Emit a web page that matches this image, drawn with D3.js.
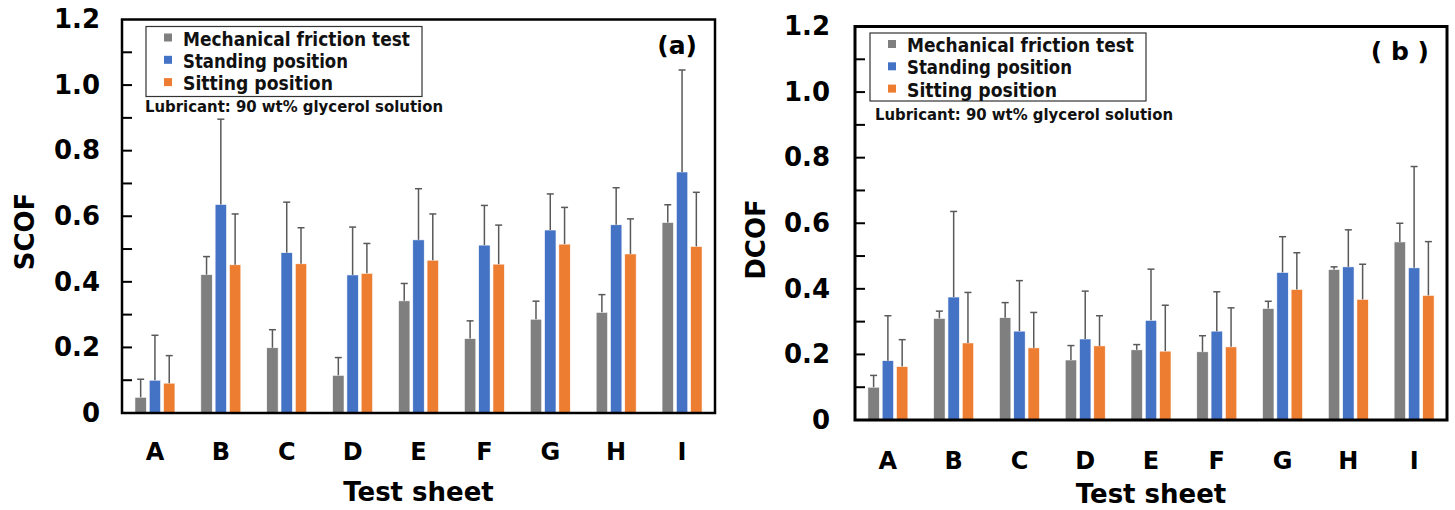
<!DOCTYPE html>
<html>
<head>
<meta charset="utf-8">
<script src="https://cdn.jsdelivr.net/npm/d3@7"></script>
<style>
  body { margin: 0; background: #fff; }
  svg text { font-family: "DejaVu Sans", sans-serif; }
</style>
</head>
<body>
<div id="chart"></div>
<script>
// categories and series
const sheets = ["A", "B", "C", "D", "E", "F", "G", "H", "I"];
const seriesNames = ["Mechanical friction test", "Standing position", "Sitting position"];
const yTicks = [0, 0.2, 0.4, 0.6, 0.8, 1.0, 1.2];

// (a) static COF
const scofMech = [0.048, 0.422, 0.199, 0.115, 0.342, 0.227, 0.286, 0.307, 0.581];
const scofMechSd = [0.055, 0.055, 0.055, 0.054, 0.053, 0.054, 0.055, 0.054, 0.054];
const scofStand = [0.100, 0.636, 0.489, 0.421, 0.528, 0.512, 0.558, 0.574, 0.735];
const scofStandSd = [0.137, 0.260, 0.154, 0.146, 0.156, 0.121, 0.110, 0.113, 0.311];
const scofSit = [0.091, 0.452, 0.455, 0.426, 0.466, 0.454, 0.515, 0.485, 0.508];
const scofSitSd = [0.084, 0.155, 0.110, 0.091, 0.141, 0.119, 0.112, 0.107, 0.165];

// (b) dynamic COF
const dcofMech = [0.100, 0.310, 0.312, 0.183, 0.214, 0.208, 0.340, 0.459, 0.543];
const dcofMechSd = [0.036, 0.022, 0.046, 0.044, 0.016, 0.049, 0.022, 0.008, 0.057];
const dcofStand = [0.181, 0.375, 0.271, 0.247, 0.304, 0.271, 0.450, 0.467, 0.464];
const dcofStandSd = [0.137, 0.261, 0.154, 0.146, 0.156, 0.120, 0.109, 0.113, 0.309];
const dcofSit = [0.163, 0.235, 0.220, 0.226, 0.210, 0.223, 0.398, 0.368, 0.380];
const dcofSitSd = [0.082, 0.154, 0.108, 0.092, 0.140, 0.119, 0.112, 0.107, 0.164];

const colors = ["#7f7f7f", "#4472c4", "#ed7d31"];

const svg = d3.select("#chart")
  .append("svg")
    .attr("width", 1455)
    .attr("height", 510);

function drawPanel(p) {
  const g = svg.append("g")
    .attr("transform", `translate(${p.left}, ${p.top})`);

  const x = d3.scaleBand()
    .domain(sheets)
    .range([0, p.width]);

  const y = d3.scaleLinear()
    .domain([0, 1.2])
    .range([p.height, 0]);

  const sub = d3.scaleBand()
    .domain([0, 1, 2])
    .range([x.bandwidth() / 2 - 20, x.bandwidth() / 2 + 20])
    .paddingInner(0.2);

  // bars + error bars
  p.series.forEach(function(s, i) {
    const rows = sheets.map((c, k) => ({c: c, v: s.values[k], sd: s.sd[k]}));
    const grp = g.append("g");
    grp.selectAll("rect")
      .data(rows)
      .join("rect")
        .attr("x", d => x(d.c) + sub(i))
        .attr("y", d => y(d.v))
        .attr("width", sub.bandwidth())
        .attr("height", d => p.height - y(d.v))
        .attr("fill", colors[i])
        .attr("stroke", "#fff")
        .attr("stroke-width", 0.6);

    const cx = d => x(d.c) + sub(i) + sub.bandwidth() / 2;
    grp.selectAll("line.err")
      .data(rows)
      .join("line")
        .attr("class", "err")
        .attr("x1", cx).attr("x2", cx)
        .attr("y1", d => y(d.v))
        .attr("y2", d => y(d.v + d.sd))
        .attr("stroke", "#595959")
        .attr("stroke-width", 1.5);
    grp.selectAll("line.cap")
      .data(rows)
      .join("line")
        .attr("class", "cap")
        .attr("x1", d => cx(d) - 3.5).attr("x2", d => cx(d) + 3.5)
        .attr("y1", d => y(d.v + d.sd))
        .attr("y2", d => y(d.v + d.sd))
        .attr("stroke", "#595959")
        .attr("stroke-width", 1.5);
  });

  // minor inward ticks every 0.1
  g.selectAll("line.minor")
    .data(d3.range(1, 12).map(v => v / 10))
    .join("line")
      .attr("class", "minor")
      .attr("x1", 0).attr("x2", 10)
      .attr("y1", d => y(d)).attr("y2", d => y(d))
      .attr("stroke", "#000")
      .attr("stroke-width", 2);

  // y axis labels
  const yAxis = g.append("g")
    .call(d3.axisLeft(y).tickValues(yTicks).tickSize(0).tickPadding(p.tickPad)
      .tickFormat(d => d === 0 ? "0" : d3.format(".1f")(d)));
  yAxis.select(".domain").remove();
  yAxis.selectAll("text")
    .style("font-size", "26px")
    .style("font-weight", "bold")
    .attr("fill", "#000");

  // x axis labels
  const xAxis = g.append("g")
    .attr("transform", `translate(0, ${p.height})`)
    .call(d3.axisBottom(x).tickSize(0).tickPadding(p.xPad));
  xAxis.select(".domain").remove();
  xAxis.selectAll("text")
    .style("font-size", "24px")
    .style("font-weight", "bold")
    .attr("fill", "#000");

  // frame
  g.append("rect")
    .attr("x", 0).attr("y", 0)
    .attr("width", p.width).attr("height", p.height)
    .attr("fill", "none")
    .attr("stroke", "#000")
    .attr("stroke-width", p.frame);

  // axis titles
  g.append("text")
    .attr("text-anchor", "middle")
    .attr("x", p.width / 2)
    .attr("y", p.height + p.titlePad)
    .text("Test sheet")
    .style("font-size", "26px")
    .style("font-weight", "bold");

  g.append("text")
    .attr("text-anchor", "middle")
    .attr("transform", "rotate(-90)")
    .attr("x", -p.yTitleY)
    .attr("y", p.yTitleX)
    .text(p.yTitle)
    .style("font-size", "26px")
    .style("font-weight", "bold");

  // panel tag
  g.append("text")
    .attr("text-anchor", "end")
    .attr("x", p.width - 18)
    .attr("y", p.tagY)
    .text(p.tag)
    .style("font-size", "25px")
    .style("font-weight", "bold")
    .attr("xml:space", "preserve");

  // legend
  const lg = g.append("g")
    .attr("transform", `translate(${p.legX}, ${p.legY})`);
  lg.append("rect")
    .attr("x", 0).attr("y", 0)
    .attr("width", 276).attr("height", p.legH)
    .attr("fill", "#fff")
    .attr("stroke", "#333")
    .attr("stroke-width", 1.2);
  const legLen = [227, 165, 150];
  seriesNames.forEach(function(name, i) {
    lg.append("rect")
      .attr("x", 18).attr("y", 7 + i * 22.3)
      .attr("width", 8).attr("height", 8)
      .attr("fill", colors[i]);
    lg.append("text")
      .attr("x", 37).attr("y", 19 + i * 22.3)
      .text(name)
      .attr("textLength", legLen[i])
      .attr("lengthAdjust", "spacingAndGlyphs")
      .style("font-size", "19px")
      .style("font-weight", "bold")
      .attr("fill", "#111");
  });

  g.append("text")
    .attr("x", p.legX + p.lubX)
    .attr("y", p.legY + p.lubY)
    .text("Lubricant: 90 wt% glycerol solution")
    .attr("textLength", 298)
    .attr("lengthAdjust", "spacingAndGlyphs")
    .style("font-size", "15.5px")
    .style("font-weight", "bold")
    .attr("fill", "#111");
}

drawPanel({
  left: 122, top: 19.5, width: 593, height: 393.5,
  series: [
    {values: scofMech, sd: scofMechSd},
    {values: scofStand, sd: scofStandSd},
    {values: scofSit, sd: scofSitSd}
  ],
  tickPad: 22, xPad: 30, titlePad: 88, frame: 2.5,
  yTitle: "SCOF", yTitleX: -88, yTitleY: 212,
  tag: "(a)", tagY: 34,
  legX: 24, legY: 7, legH: 70, lubX: -1, lubY: 85
});

drawPanel({
  left: 855, top: 26.5, width: 592, height: 393.5,
  series: [
    {values: dcofMech, sd: dcofMechSd},
    {values: dcofStand, sd: dcofStandSd},
    {values: dcofSit, sd: dcofSitSd}
  ],
  tickPad: 25, xPad: 32, titlePad: 83, frame: 3,
  yTitle: "DCOF", yTitleX: -90, yTitleY: 213,
  tag: "( b )", tagY: 33,
  legX: 15, legY: 6.5, legH: 68, lubX: 5, lubY: 86.5
});
</script>
</body>
</html>
